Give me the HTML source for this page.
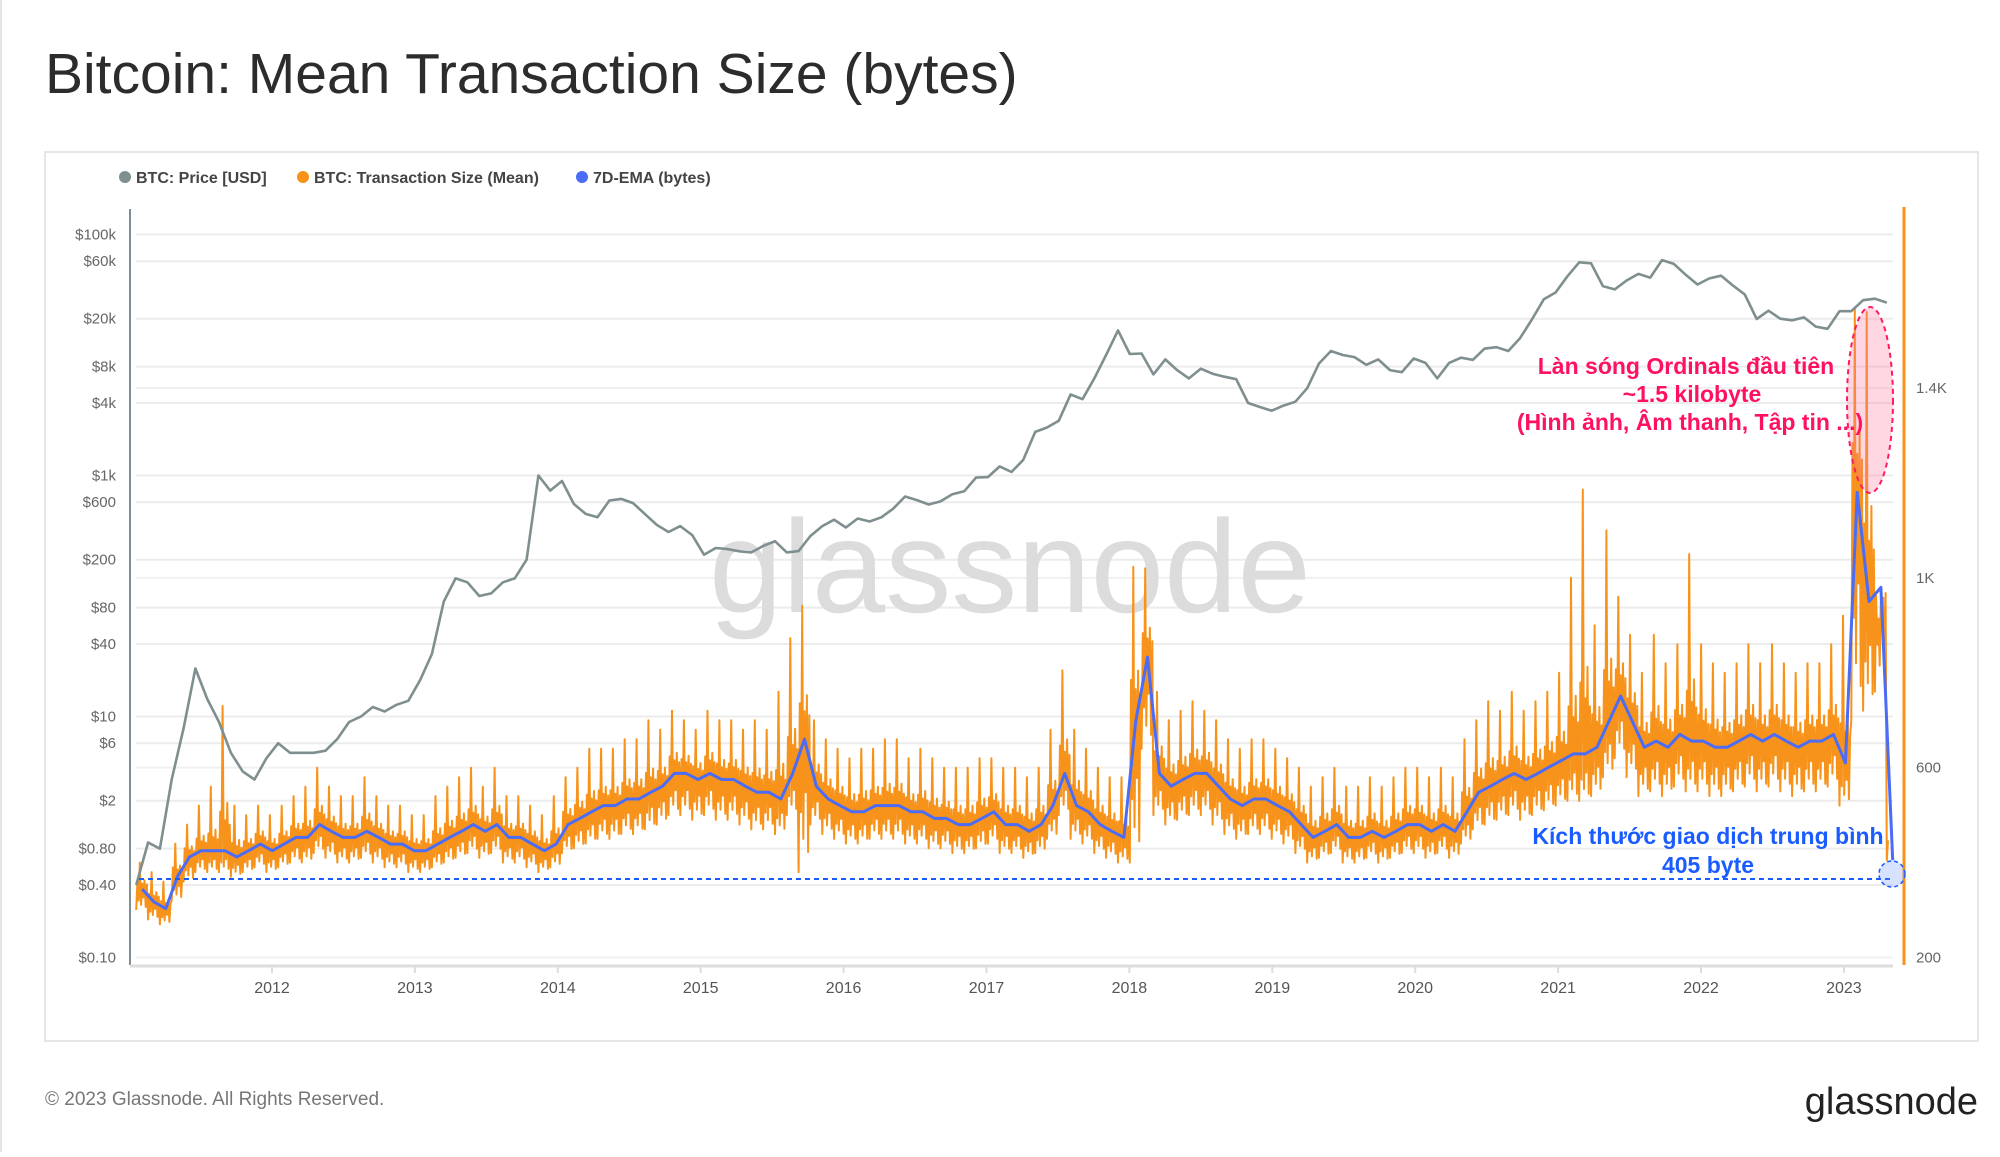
<!DOCTYPE html>
<html><head><meta charset="utf-8"><style>
body{margin:0;background:#fff;width:2000px;height:1152px;overflow:hidden;font-family:"Liberation Sans","DejaVu Sans",sans-serif}
</style></head><body>
<svg id="chart" width="2000" height="1152" viewBox="0 0 2000 1152" xmlns="http://www.w3.org/2000/svg" font-family="Liberation Sans, DejaVu Sans, sans-serif">
<rect x="0" y="0" width="2000" height="1152" fill="#fff"/>
<line x1="1" y1="0" x2="1" y2="1152" stroke="#e4e4e4" stroke-width="2"/>
<text x="45" y="93" font-size="57" fill="#2c2c2c">Bitcoin: Mean Transaction Size (bytes)</text>
<rect x="45" y="152" width="1933" height="889" fill="#fff" stroke="#e6e6e6" stroke-width="2"/>
<g font-size="16" fill="#444" font-weight="bold">
 <g><circle cx="125" cy="177" r="6" fill="#7f8f8f"/><text x="136" y="183">BTC: Price [USD]</text></g>
 <g><circle cx="303" cy="177" r="6" fill="#f7931a"/><text x="314" y="183">BTC: Transaction Size (Mean)</text></g>
 <g><circle cx="582" cy="177" r="6" fill="#4a6cf7"/><text x="593" y="183">7D-EMA (bytes)</text></g>
</g>
<g id="grid"></g>
<text x="1010" y="612" font-size="132" fill="#dcdcdc" text-anchor="middle">glassnode</text>
<g id="yleft" font-size="15" fill="#666" text-anchor="end"></g>
<g id="yright" font-size="15" fill="#666"></g>
<g id="xaxis" font-size="16" fill="#555" text-anchor="middle"></g>
<line x1="130" y1="209" x2="130" y2="965" stroke="#7f8f95" stroke-width="2"/>
<line x1="130" y1="966" x2="1893" y2="966" stroke="#ddd" stroke-width="3"/>
<line x1="1904" y1="207" x2="1904" y2="965" stroke="#f7931a" stroke-width="3"/>
<g id="series"></g>
<g>
 <ellipse cx="1870" cy="400" rx="23" ry="93" fill="rgba(255,110,150,0.28)" stroke="#ff1a5e" stroke-width="2" stroke-dasharray="5,4"/>
 <g font-size="23" font-weight="bold" fill="#ff1060" text-anchor="middle">
  <text x="1686" y="374">Làn sóng Ordinals đầu tiên</text>
  <text x="1692" y="402">~1.5 kilobyte</text>
  <text x="1690" y="430">(Hình ảnh, Âm thanh, Tập tin ...)</text>
 </g>
</g>
<g>
 <line x1="139" y1="879" x2="1892" y2="879" stroke="#1a5cff" stroke-width="2" stroke-dasharray="5,4"/>
 <circle cx="1892" cy="874" r="13" fill="rgba(90,140,255,0.25)" stroke="#1a5cff" stroke-width="1.5" stroke-dasharray="4,3"/>
 <g font-size="23" font-weight="bold" fill="#1a5cff" text-anchor="middle">
  <text x="1708" y="844">Kích thước giao dịch trung bình</text>
  <text x="1708" y="873">405 byte</text>
 </g>
</g>
<text x="45" y="1105" font-size="19" fill="#777">© 2023 Glassnode. All Rights Reserved.</text>
<text x="1978" y="1114" font-size="38" fill="#222" text-anchor="end">glassnode</text>
</svg>
<script>
const years=[2012,2013,2014,2015,2016,2017,2018,2019,2020,2021,2022,2023];
const priceTicks=[100000,60000,20000,8000,4000,1000,600,200,80,40,10,6,2,0.8,0.4,0.1];
const priceTickLabels=["$100k","$60k","$20k","$8k","$4k","$1k","$600","$200","$80","$40","$10","$6","$2","$0.80","$0.40","$0.10"];
const byteTicks=[1400,1000,600,200];
const byteTickLabels=["1.4K","1K","600","200"];
const startYear=2011.05;
const endYear=2023.30;
const price=[0.4,0.9,0.8,3,8,25,14,9,5,3.5,3,4.5,
6,5,5,5,5.2,6.5,9,10,12,11,12.5,13.5,
20,33,90,140,130,100,105,130,140,200,1000,750,
900,580,480,450,620,640,590,480,390,340,380,320,
220,250,245,235,230,260,285,230,236,315,380,430,
370,440,415,450,530,670,625,575,610,700,740,960,
970,1190,1070,1350,2300,2500,2850,4700,4300,6400,10000,16000,
10200,10300,6900,9200,7500,6400,7700,7000,6600,6300,4000,3700,
3450,3800,4100,5300,8500,10800,10000,9600,8300,9200,7500,7200,
9350,8600,6400,8600,9500,9100,11300,11600,10800,13800,19700,29000,
33000,45000,58800,57700,37300,35000,41500,47100,43800,61300,57000,46300,
38500,43200,45500,37700,31800,19900,23300,20000,19400,20500,17200,16500,
23100,23100,28500,29300,27200];
const txEma=[344,317,303,371,412,425,425,425,412,425,439,425,
439,453,453,480,466,453,453,466,453,439,439,425,
425,439,453,466,480,466,480,453,453,439,425,439,
480,493,507,520,520,534,534,548,561,588,588,575,
588,575,575,561,548,548,534,588,660,561,534,520,
507,507,520,520,520,507,507,493,493,480,480,493,
507,480,480,466,480,520,588,520,507,480,466,453,
697,833,588,561,575,588,588,561,534,520,534,534,
520,507,480,453,466,480,453,453,466,453,466,480,
480,466,480,466,507,548,561,575,588,575,588,602,
615,629,629,643,697,751,697,643,656,643,670,656,
656,643,643,656,670,656,670,656,643,656,656,670,
610,1180,950,980,405];
const txHigh=[400,380,360,440,480,520,560,730,520,500,520,500,
520,540,560,600,560,540,540,580,540,520,520,500,
500,540,560,580,600,560,600,540,540,520,500,540,
580,600,640,640,640,660,660,700,680,720,700,680,
720,700,700,680,700,680,760,873,941,700,660,640,
620,640,640,660,660,620,640,620,600,600,600,620,
620,600,600,580,600,680,805,680,640,600,580,580,
1023,1020,760,700,720,740,720,700,660,640,660,660,
640,620,600,560,580,600,560,560,580,560,580,600,
600,580,600,580,660,700,740,720,760,720,740,760,
800,1000,1186,900,1100,960,880,800,880,820,860,1050,
860,820,800,820,860,820,860,820,800,820,820,860,
920,1566,1560,914,560];
const txLow=[300,280,270,320,360,380,380,380,370,380,390,380,
390,400,400,420,410,400,400,410,400,390,390,380,
380,390,400,410,420,410,420,400,400,390,380,390,
420,430,440,450,450,460,460,470,480,500,500,490,
500,490,490,480,470,470,460,500,380,480,460,450,
440,440,450,450,450,440,440,430,430,420,420,430,
440,420,420,410,420,450,500,450,440,420,410,400,
400,640,500,480,490,500,500,480,460,450,460,460,
450,440,420,400,410,420,400,400,410,400,410,420,
420,410,420,410,440,470,480,490,500,490,500,510,
520,530,530,540,580,620,580,540,550,540,560,550,
550,540,540,550,560,550,560,550,540,550,550,560,
520,700,720,760,405];

const NS="http://www.w3.org/2000/svg";
const xT=t=>272+(t-2012)*142.9;
const yP=p=>234.5+(5-Math.log10(p))*120.5;
const yB=b=>957.5-(b-200)*0.4746;
const step=(endYear-startYear)/(price.length-1);
const tOf=i=>startYear+i*step;
function mk(tag,attrs,parent){const e=document.createElementNS(NS,tag);for(const k in attrs)e.setAttribute(k,attrs[k]);parent.appendChild(e);return e;}
const grid=document.getElementById('grid'),yl=document.getElementById('yleft'),yr=document.getElementById('yright'),xa=document.getElementById('xaxis'),series=document.getElementById('series');
priceTicks.forEach((p,i)=>{
  const y=yP(p);
  const g=mk('line',{x1:136,x2:1893,y1:y,y2:y,stroke:'#ececec','stroke-width':2},grid);
  
  
  const t=mk('text',{x:116,y:y+5},yl);t.textContent=priceTickLabels[i];
  
  
});
byteTicks.forEach((b,i)=>{
  const y=yB(b);
  const g=mk('line',{x1:136,x2:1893,y1:y,y2:y,stroke:'#f0f0f0','stroke-width':2},grid);
  
  
  const t=mk('text',{x:1916,y:y+5},yr);t.textContent=byteTickLabels[i];
  
  
});
years.forEach(yv=>{
  const x=xT(yv);
  const tk=mk('line',{x1:x,x2:x,y1:966,y2:973,stroke:'#ddd','stroke-width':2},xa);
  
  
  const t=mk('text',{x:x,y:993},xa);t.textContent=yv;
  
  
});
// orange: dense oscillation within each month's low/high envelope (style pattern only)
const pat=[-1,0.45,-0.55,1,-0.75,0.35,-0.4,0.55,-0.85,0.3];
let d='';
txHigh.forEach((h,i)=>{
  const e=txEma[i],lo=txLow[i];
  const n=(i===txHigh.length-1)?2:pat.length;
  for(let k=0;k<n;k++){
    const f=pat[k];
    const v=f<0?e+(e-lo)*f:e+(h-e)*(f===1?1:f*0.6);
    d+=(d?'L':'M')+xT(tOf(i)+step*k/pat.length).toFixed(1)+','+yB(v).toFixed(1);
  }
});
const o=mk('path',{d:d,fill:'none',stroke:'#f7931a','stroke-width':2,'stroke-linejoin':'round'},series);


let db='';
txEma.forEach((v,i)=>{db+=(i?'L':'M')+xT(tOf(i)+step*0.5).toFixed(1)+','+yB(v).toFixed(1);});
const bl=mk('path',{d:db,fill:'none',stroke:'#4a6cf7','stroke-width':3,'stroke-linejoin':'round'},series);


let dp='';
price.forEach((v,i)=>{dp+=(i?'L':'M')+xT(tOf(i)).toFixed(1)+','+yP(v).toFixed(1);});
const pl=mk('path',{d:dp,fill:'none',stroke:'#7f8f8f','stroke-width':2.6,'stroke-linejoin':'round'},series);


</script>
</body></html>
